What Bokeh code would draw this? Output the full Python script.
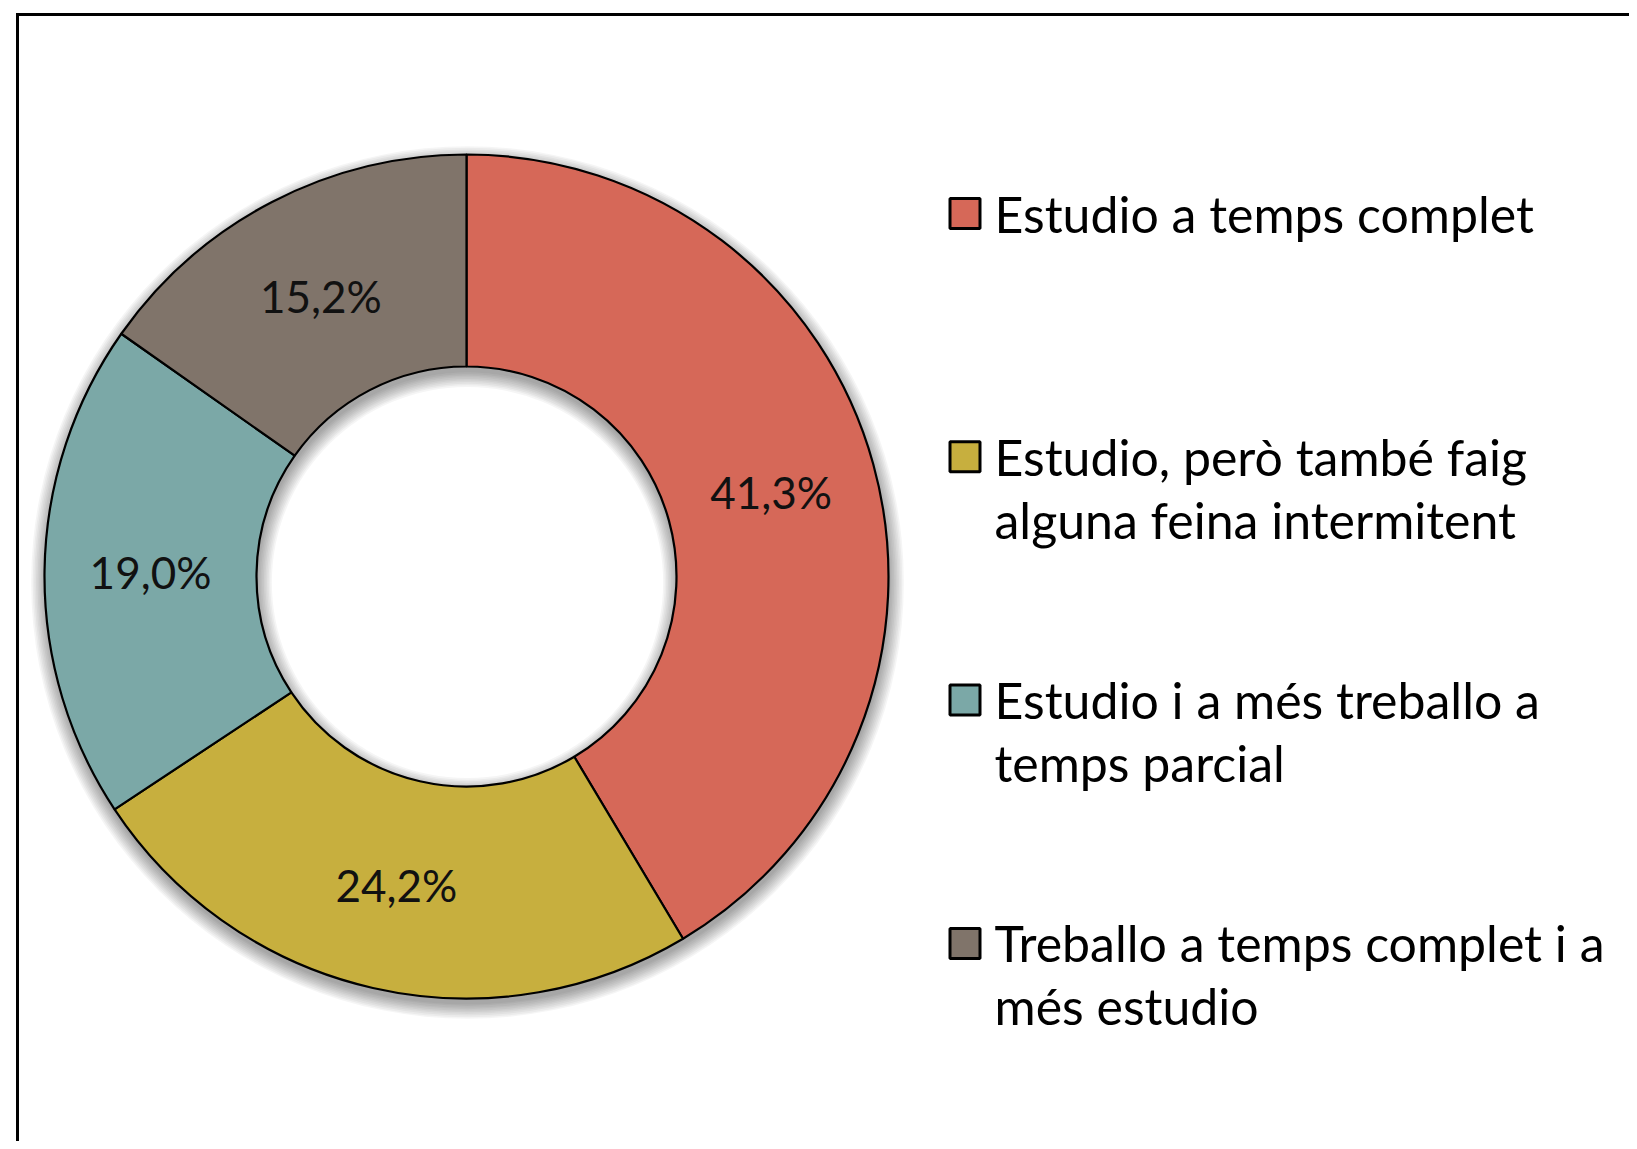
import math
from bokeh.plotting import figure
from bokeh.models import Range1d, BoxAnnotation
from bokeh.core.properties import value
from bokeh.embed import file_html
from bokeh.resources import INLINE

# ---- data ----
categories = [
    "Estudio a temps complet",
    "Estudio, però també faig\nalguna feina intermitent",
    "Estudio i a més treballo a\ntemps parcial",
    "Treballo a temps complet i a\nmés estudio",
]
shares = [41.3, 24.2, 19.0, 15.2]
share_labels = ["41,3%", "24,2%", "19,0%", "15,2%"]
colors = ["#D66858", "#C7AF3E", "#7BA8A7", "#80746A"]

W, H = 1629, 1141
FONT = "Lato"

p = figure(width=W, height=H, output_backend="svg", toolbar_location=None,
           x_range=Range1d(0, W), y_range=Range1d(0, H),
           min_border=0, outline_line_color=None)
p.axis.visible = False
p.grid.visible = False
p.background_fill_color = "white"
p.border_fill_color = "white"


def sy(s):
    # screen y -> data y
    return H - s


cx, cy = 466, sy(576)
R_out, R_in = 422, 210

# frame lines (partial border of the original chart area)
p.add_layout(BoxAnnotation(left=16, right=W, bottom=sy(15.5), top=sy(12.5),
                           fill_color="black", fill_alpha=1, line_color=None))
p.add_layout(BoxAnnotation(left=15.5, right=18.5, bottom=0, top=sy(12.5),
                           fill_color="black", fill_alpha=1, line_color=None))

# soft shadow
for k in range(10):
    p.annulus(x=cx + 1, y=cy - 6, inner_radius=R_in - 1.6 * k, outer_radius=R_out + 1.6 * k,
              fill_color="black", fill_alpha=0.04, line_color=None)

total = sum(shares)
cum = 0.0
mid_r = (R_out + R_in) / 2
lx, ly = [], []
starts, ends = [], []
for v in shares:
    a0 = math.pi / 2 - 2 * math.pi * cum / total
    cum += v
    a1 = math.pi / 2 - 2 * math.pi * cum / total
    starts.append(a0)
    ends.append(a1)
    am = (a0 + a1) / 2
    lx.append(cx + mid_r * math.cos(am))
    ly.append(cy + mid_r * math.sin(am))

p.annular_wedge(x=cx, y=cy, inner_radius=R_in, outer_radius=R_out,
                start_angle=starts, end_angle=ends, direction="clock",
                fill_color=colors, line_color="black", line_width=2.2)

p.text(x=lx, y=ly, text=share_labels, text_font=value(FONT), text_font_size="44px",
       text_align="center", text_baseline="middle", text_color="#111111")

# legend
sq = 33
base0, step, line_gap = 213, 243.3, 63
sq_x, sq_y = [], []
tx, ty, tt = [], [], []
for i, lab in enumerate(categories):
    b = base0 + i * step
    sq_x.append(948 + sq / 2)
    sq_y.append(sy(b))
    for j, line in enumerate(lab.split("\n")):
        tx.append(994)
        ty.append(sy(b + j * line_gap))
        tt.append(line)

p.rect(x=sq_x, y=sq_y, width=sq - 3, height=sq - 3, fill_color=colors,
       line_color="black", line_width=3)
p.text(x=tx, y=ty, text=tt, text_font=value(FONT), text_font_size="50px",
       text_align="left", text_baseline="middle", text_color="black")

open("out.html", "w").write(file_html(p, INLINE))
